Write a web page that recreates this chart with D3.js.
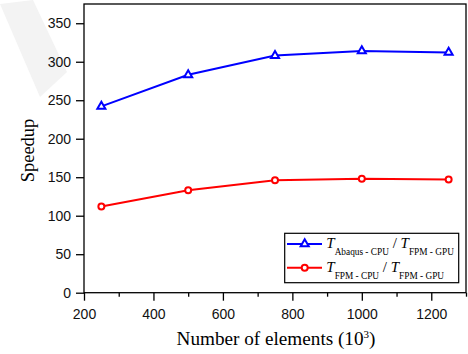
<!DOCTYPE html>
<html>
<head>
<meta charset="utf-8">
<script src="https://cdn.jsdelivr.net/npm/d3@7"></script>
<style>
  body { margin: 0; background: #fff; }
  svg { display: block; }
</style>
</head>
<body>
<svg id="chart" width="468" height="354"></svg>
<script>
const elements = [250, 500, 750, 1000, 1250];
const speedupAbaqus = [242, 283, 308, 314, 312];
const speedupFpm = [112, 133, 146, 148, 147];
const xTicks = [200, 400, 600, 800, 1000, 1200];
const xMinorTicks = [300, 500, 700, 900, 1100, 1300];
const yTicks = [0, 50, 100, 150, 200, 250, 300, 350];

const svg = d3.select('#chart');
const serif = '"Liberation Serif", "Times New Roman", serif';
const sans = '"Liberation Sans", Arial, sans-serif';

const plotL = 84, plotR = 466, plotT = 4, plotB = 292.7;
const x = d3.scaleLinear().domain([200, 1300]).range([plotL, plotR]);
const y = d3.scaleLinear().domain([0, 375]).range([plotB, plotT]);

// faint watermark band in the corner
svg.append('path')
  .attr('d', 'M0,4 L33,0 L67,72 L40,97 Z')
  .attr('fill', '#f3f3f3');

// plot frame
svg.append('rect')
  .attr('x', plotL).attr('y', plotT)
  .attr('width', plotR - plotL).attr('height', plotB - plotT)
  .attr('fill', 'none').attr('stroke', '#000').attr('stroke-width', 1.3);

const xAxis = svg.append('g')
  .attr('transform', `translate(0,${plotB})`)
  .call(d3.axisBottom(x).tickValues(xTicks).tickSize(8).tickPadding(8.4).tickFormat(d3.format('d')));
const xMinor = svg.append('g')
  .attr('transform', `translate(0,${plotB})`)
  .call(d3.axisBottom(x).tickValues(xMinorTicks).tickSize(4).tickFormat(''));
const yAxis = svg.append('g')
  .attr('transform', `translate(${plotL},0)`)
  .call(d3.axisLeft(y).tickValues(yTicks).tickSize(8).tickPadding(5));

[xAxis, xMinor, yAxis].forEach((g) => {
  g.select('.domain').remove();
  g.selectAll('line').attr('stroke', '#000').attr('stroke-width', 1.3);
  g.selectAll('text').attr('font-family', sans).attr('font-size', 14).attr('fill', '#111');
});

// axis titles
svg.append('text')
  .attr('transform', 'translate(34,150.5) rotate(-90)')
  .attr('text-anchor', 'middle')
  .attr('font-family', serif).attr('font-size', 18.5)
  .text('Speedup');

const xTitle = svg.append('text')
  .attr('x', 276).attr('y', 345)
  .attr('text-anchor', 'middle')
  .attr('font-family', serif).attr('font-size', 19.2);
xTitle.append('tspan').text('Number of elements (10');
xTitle.append('tspan').attr('font-size', 11).attr('dy', -7).text('3');
xTitle.append('tspan').attr('dy', 7).text(')');

// series
const series = [
  { name: 'abaqus', values: speedupAbaqus, color: '#0000ff', marker: 'triangle' },
  { name: 'fpm', values: speedupFpm, color: '#ff0000', marker: 'circle' },
];

const line = d3.line().x((d) => x(d[0])).y((d) => y(d[1]));
const tri = d3.symbol().type(d3.symbolTriangle).size(28);

const drawMarker = (g, s, cx, cy) => {
  if (s.marker === 'triangle') {
    g.append('path').attr('d', tri()).attr('transform', `translate(${cx},${cy})`)
      .attr('fill', '#fff').attr('stroke', s.color).attr('stroke-width', 2);
  } else {
    g.append('circle').attr('cx', cx).attr('cy', cy).attr('r', 3)
      .attr('fill', '#fff').attr('stroke', s.color).attr('stroke-width', 2);
  }
};

series.forEach((s) => {
  const pts = elements.map((e, i) => [e, s.values[i]]);
  svg.append('path').datum(pts)
    .attr('d', line).attr('fill', 'none')
    .attr('stroke', s.color).attr('stroke-width', 2);
  const g = svg.append('g');
  pts.forEach((p) => drawMarker(g, s, x(p[0]), y(p[1])));
});

// legend
const legend = svg.append('g');
legend.append('rect')
  .attr('x', 284.7).attr('y', 233.3).attr('width', 174).attr('height', 49.4)
  .attr('fill', '#fff').attr('stroke', '#000').attr('stroke-width', 1.2);

const legendRows = [
  { s: series[0], sub1: 'Abaqus - CPU', sub2: 'FPM - GPU', ly: 244 },
  { s: series[1], sub1: 'FPM - CPU', sub2: 'FPM - GPU', ly: 267.7 },
];
legendRows.forEach((r) => {
  legend.append('line')
    .attr('x1', 287).attr('x2', 322).attr('y1', r.ly).attr('y2', r.ly)
    .attr('stroke', r.s.color).attr('stroke-width', 2);
  drawMarker(legend, r.s, 304.7, r.ly);
  const t = legend.append('text')
    .attr('x', 326.3).attr('y', r.ly + 4.3)
    .attr('font-family', serif).attr('font-size', 15);
  t.append('tspan').attr('font-style', 'italic').text('T');
  t.append('tspan').attr('font-size', 9.3).attr('dy', 6.7).text(r.sub1);
  t.append('tspan').attr('dy', -6.7).text(' / ');
  t.append('tspan').attr('font-style', 'italic').text('T');
  t.append('tspan').attr('font-size', 9.3).attr('dy', 6.7).text(r.sub2);
});
</script>
</body>
</html>
